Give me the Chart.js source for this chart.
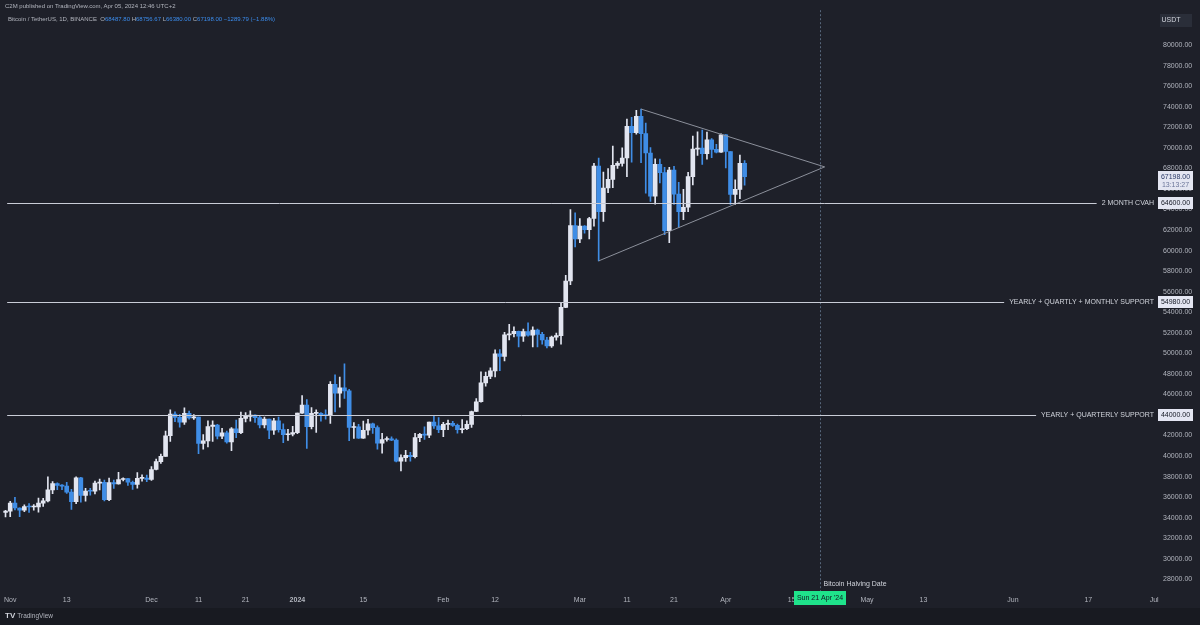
<!DOCTYPE html>
<html>
<head>
<meta charset="utf-8">
<title>Bitcoin / TetherUS, 1D</title>
<script src="https://cdn.jsdelivr.net/npm/chart.js@4.4.1/dist/chart.umd.min.js"></script>
<style>
  html, body { margin: 0; padding: 0; background: #1e2029; }
  #wrap { position: relative; width: 1200px; height: 625px; overflow: hidden; background: #1e2029; }
  #chart { position: absolute; left: 0; top: 0; }
  .hdr { position: absolute; font-family: "Liberation Sans", Arial, sans-serif; font-size: 6px; color: #b2b5be; white-space: pre; }
  .hdr b { font-weight: normal; color: #3b8ced; }
  #footer { position: absolute; left: 0; top: 608px; width: 1200px; height: 17px; background: #181a21; }
  #logo { position: absolute; left: 5px; top: 611px; font-family: "Liberation Sans", Arial, sans-serif; font-size: 6.5px; color: #b2b5be; }
  #logo span { font-weight: bold; font-size: 8px; color: #d1d4dc; margin-right: 2px; }
</style>
</head>
<body>
<div id="wrap">
  <div id="footer"></div>
  <canvas id="chart" width="1200" height="625"></canvas>
  <div class="hdr" style="left:5px;top:3px;">C2M published on TradingView.com, Apr 05, 2024 12:46 UTC+2</div>
  <div class="hdr" style="left:8px;top:16px;">Bitcoin / TetherUS, 1D, BINANCE  O<b>68487.80</b> H<b>68756.67</b> L<b>66380.00</b> C<b>67198.00</b> <b>−1289.79 (−1.88%)</b></div>
  <div id="logo"><span>TV</span>TradingView</div>
</div>
<script>
"use strict";

// days counted from 1 Jan 2024; first candle is 31 Oct 2023
var START_DAY = -62;

var opens = [
  34500, 34640, 35420, 34940, 34730, 35080, 35040, 35040, 35420, 35630, 36700, 37320, 37130, 37070, 36490, 35550,
  37880, 36160, 36600, 36570, 37360, 37450, 35760, 37420, 37290, 37720, 37800, 37450, 37240, 37830, 37850,
  37720, 38690, 39460, 39970, 41980, 44080, 43770, 43290, 44170, 43720, 43790, 41240, 41480, 42880, 43020, 41940,
  42260, 41370, 42660, 42270, 43660, 43860, 43990, 43740, 43020, 43600, 42520, 43440, 42580, 42070, 42140,
  42280, 44180, 44950, 42850, 44150, 44160, 43970, 43930, 46970, 46110, 46630, 46340, 42780, 42840, 41730, 42510,
  43140, 42760, 41260, 41610, 41670, 41550, 39510, 39850, 40080, 39930, 41800, 42120, 42030, 43300, 42940,
  42580, 43080, 43190, 42990, 42580, 42660, 43090, 44340, 45290, 47130, 47750, 48290, 49960, 49700, 51800, 51910,
  52130, 51660, 52120, 51780, 52260, 51850, 51300, 50730, 51570, 51730, 54480, 57040, 62430,
  61130, 62390, 62030, 63130, 68240, 63800, 66100, 66930, 68300, 68500, 69020, 72100, 71480, 73080, 71390, 69500,
  65300, 68390, 67600, 61940, 67840, 65500, 63800, 64220, 67210, 69880, 69990, 69450, 70780, 69850, 69580,
  71280, 69650, 65460, 65960, 68490
];
var highs = [
  34720, 35580, 35980, 34950, 35260, 35380, 35280, 35900, 35890, 37970, 37520, 37400, 37230, 37430, 36760, 37980,
  37930, 36850, 36850, 37560, 37750, 37650, 37860, 37650, 38420, 37890, 37820, 37560, 38380, 38170, 38150,
  38970, 39700, 40200, 42420, 44490, 44300, 44050, 44700, 44370, 44040, 43800, 42100, 43430, 43420, 43090, 42700,
  42430, 42760, 43500, 44280, 44240, 44400, 44020, 43950, 43800, 43600, 43680, 43790, 43130, 42600, 42900,
  44190, 45880, 45500, 44730, 44500, 44230, 44500, 47250, 47900, 47700, 48970, 46500, 43260, 43080, 43400, 43580,
  43200, 42930, 42200, 41880, 41870, 41680, 40130, 40550, 40350, 42220, 42200, 42840, 43300, 43880, 43750,
  43290, 43490, 43380, 43120, 43540, 43420, 44370, 45600, 48200, 48170, 48590, 50330, 50370, 52040, 52820, 52580,
  52160, 52360, 52980, 52570, 52370, 52040, 51550, 51690, 51960, 54940, 57590, 64000, 63680,
  63110, 62430, 63230, 68500, 69000, 67640, 67990, 70170, 68670, 70000, 72800, 72970, 73650, 73780, 72420, 70040,
  68930, 68920, 68120, 68100, 68200, 66650, 65970, 67620, 71150, 71560, 71730, 71550, 70900, 70350, 71370,
  71290, 69650, 66900, 69290, 68757
];
var lows = [
  34080, 34100, 34760, 34100, 34580, 34520, 34730, 34530, 35100, 35540, 36330, 36730, 36730, 36350, 34800, 35360,
  35500, 35610, 36200, 36320, 36690, 35630, 35660, 36860, 37250, 37590, 37150, 36750, 36870, 37550, 37500,
  37620, 38650, 39280, 39970, 41420, 43340, 42820, 43080, 43580, 43570, 40220, 40680, 40880, 41420, 41660, 41680,
  41250, 40530, 41800, 42190, 43330, 43400, 43280, 42750, 42730, 41680, 42100, 42320, 41300, 41520, 41970,
  42190, 44150, 40750, 42630, 42300, 43400, 43580, 43180, 44300, 44750, 45610, 41500, 41720, 41720, 41720, 42050,
  42200, 40680, 40280, 41440, 41500, 39440, 38550, 39480, 39500, 39820, 41390, 41620, 41800, 42680, 42270,
  41880, 42570, 42880, 42220, 42260, 42580, 42790, 44330, 45240, 46800, 47540, 47710, 48300, 49250, 51300, 51600,
  50630, 51150, 51680, 50630, 50620, 50900, 50520, 50580, 51270, 50900, 54450, 56690, 60360,
  60780, 61700, 61150, 62390, 59000, 62850, 65630, 66130, 68000, 68230, 67190, 68620, 71330, 68560, 65600, 64780,
  64530, 66600, 61560, 60770, 64500, 62260, 63020, 63800, 66390, 69280, 68380, 68900, 69050, 69500, 69560,
  68060, 64500, 64490, 65060, 66380
];
var closes = [
  34640, 35420, 34940, 34730, 35080, 35040, 35040, 35420, 35630, 36700, 37320, 37130, 37070, 36490, 35550, 37880,
  36160, 36600, 36570, 37360, 37450, 35760, 37420, 37290, 37720, 37800, 37450, 37240, 37830, 37850, 37720,
  38690, 39460, 39970, 41980, 44080, 43770, 43290, 44170, 43720, 43790, 41240, 41480, 42880, 43020, 41940, 42260,
  41370, 42660, 42270, 43660, 43860, 43990, 43740, 43020, 43600, 42520, 43440, 42580, 42070, 42140, 42280,
  44180, 44950, 42850, 44150, 44160, 43970, 43930, 46970, 46110, 46630, 46340, 42780, 42840, 41730, 42510, 43140,
  42760, 41260, 41610, 41670, 41550, 39510, 39850, 40080, 39930, 41800, 42120, 42030, 43300, 42940, 42580,
  43080, 43190, 42990, 42580, 42660, 43090, 44340, 45290, 47130, 47750, 48290, 49960, 49700, 51800, 51910, 52130,
  51660, 52120, 51780, 52260, 51850, 51300, 50730, 51570, 51730, 54480, 57040, 62430, 61130,
  62390, 62030, 63130, 68240, 63800, 66100, 66930, 68300, 68500, 69020, 72100, 71480, 73080, 71390, 69500, 65300,
  68390, 67600, 61940, 67840, 65500, 63800, 64220, 67210, 69880, 69990, 69450, 70780, 69850, 69580, 71280,
  69650, 65460, 65960, 68490, 67198
];

var xTickDays   = [-61, -49, -31, -21, -11, 0, 14, 31, 42, 60, 70, 80, 91, 105, 121, 133, 152, 168, 182];
var xTickLabels = ["Nov", "13", "Dec", "11", "21", "2024", "15", "Feb", "12", "Mar", "11", "21", "Apr", "15", "May", "13", "Jun", "17", "Jul"];
var yTicks = [];
for (var p = 28000; p <= 80000; p += 2000) yTicks.push(p);

var levelPrices = [64600, 54980, 44000];
var levelLabels = ["2 MONTH CVAH", "YEARLY + QUARTLY + MONTHLY SUPPORT", "YEARLY + QUARTERLY SUPPORT"];

// triangle: upper edge from the 14 Mar high, lower edge from the 5 Mar low, both to the apex
var triUpperDays   = [73, 112];
var triUpperPrices = [73780, 68150];
var triLowerDays   = [64, 112];
var triLowerPrices = [59000, 68150];

var halvingDay = 111;
var lastPrice = 67198;

var UP = "#e2e5f0";
var DOWN = "#3f8de6";
var TXT = "#b2b5be";
var FONT = "'Liberation Sans', Arial, sans-serif";

var days = opens.map(function(o, i) { return START_DAY + i; });
var colors = opens.map(function(o, i) { return closes[i] >= o ? UP : DOWN; });
var wicks = days.map(function(d, i) { return { x: d, y: [lows[i], highs[i]] }; });
var bodies = days.map(function(d, i) { return { x: d, y: [opens[i], closes[i]] }; });

function pts(xs, ys) {
  return xs.map(function(x, i) { return { x: x, y: ys[i] }; });
}

// horizontal levels, halving marker, price-axis boxes
var overlay = {
  id: "overlay",
  afterDatasetsDraw: function(chart) {
    var ctx = chart.ctx, a = chart.chartArea;
    var xs = chart.scales.x, ys = chart.scales.y;
    ctx.save();
    // halving date
    var hx = Math.round(xs.getPixelForValue(halvingDay)) + 0.5;
    ctx.strokeStyle = "#56657a";
    ctx.lineWidth = 1;
    ctx.setLineDash([2, 2]);
    ctx.beginPath();
    ctx.moveTo(hx, a.top);
    ctx.lineTo(hx, a.bottom);
    ctx.stroke();
    ctx.setLineDash([]);
    ctx.font = "7px " + FONT;
    ctx.fillStyle = "#d1d4dc";
    ctx.textAlign = "left";
    ctx.textBaseline = "middle";
    ctx.fillText("Bitcoin Halving Date", hx + 3, 584);

    // levels
    ctx.textAlign = "right";
    levelPrices.forEach(function(lp, i) {
      var y = Math.round(ys.getPixelForValue(lp)) + 0.5;
      var tw = ctx.measureText(levelLabels[i]).width;
      var tx = a.right - 3;
      ctx.strokeStyle = "#c9ccd6";
      ctx.beginPath();
      ctx.moveTo(a.left + 4, y);
      ctx.lineTo(tx - tw - 5, y);
      ctx.stroke();
      ctx.fillStyle = "#d1d4dc";
      ctx.fillText(levelLabels[i], tx, y);
    });
    ctx.restore();
  },
  afterDraw: function(chart) {
    var ctx = chart.ctx, a = chart.chartArea;
    var xs = chart.scales.x, ys = chart.scales.y;
    ctx.save();
    ctx.font = "7px " + FONT;
    ctx.textAlign = "center";
    ctx.textBaseline = "middle";
    var bx = a.right + 1, bw = 35;
    levelPrices.forEach(function(lp) {
      var y = Math.round(ys.getPixelForValue(lp));
      ctx.fillStyle = "#e4e6f2";
      ctx.fillRect(bx, y - 6, bw, 12);
      ctx.fillStyle = "#131722";
      ctx.fillText(lp.toFixed(2), bx + bw / 2, y + 0.5);
    });
    // last price + countdown
    var ly = Math.round(ys.getPixelForValue(lastPrice));
    ctx.fillStyle = "#e4e6f2";
    ctx.fillRect(bx, ly - 6, bw, 19);
    ctx.fillStyle = "#2b3a67";
    ctx.fillText(lastPrice.toFixed(2), bx + bw / 2, ly + 0.5);
    ctx.fillStyle = "#6b7599";
    ctx.fillText("13:13:27", bx + bw / 2, ly + 8.5);
    // currency box
    ctx.fillStyle = "#2a2e39";
    ctx.fillRect(a.right + 3, 14, 32, 13);
    ctx.fillStyle = "#d1d4dc";
    ctx.fillText("USDT", a.right + 14, 20.5);
    // halving date label on the time axis
    var hx = Math.round(xs.getPixelForValue(halvingDay));
    ctx.fillStyle = "#1fe38b";
    ctx.fillRect(hx - 26, a.bottom - 1, 52, 14);
    ctx.fillStyle = "#131722";
    ctx.fillText("Sun 21 Apr '24", hx, a.bottom + 6);
    ctx.restore();
  }
};

new Chart(document.getElementById("chart"), {
  type: "bar",
  data: {
    datasets: [
      { type: "line", data: pts(triUpperDays, triUpperPrices), borderColor: "#8c909b", borderWidth: 1, pointRadius: 0, order: 0 },
      { type: "line", data: pts(triLowerDays, triLowerPrices), borderColor: "#8c909b", borderWidth: 1, pointRadius: 0, order: 0 },
      { data: bodies, backgroundColor: colors, barThickness: 4, minBarLength: 1, grouped: false, order: 1 },
      { data: wicks, backgroundColor: colors, barThickness: 1, grouped: false, order: 2 }
    ]
  },
  options: {
    responsive: false,
    animation: false,
    devicePixelRatio: 1,
    layout: { padding: { top: 10, bottom: 17, left: 0, right: 0 } },
    plugins: { legend: { display: false }, tooltip: { enabled: false } },
    scales: {
      x: {
        type: "linear",
        min: -62.5,
        max: 182.6,
        offset: false,
        grid: { display: false, drawTicks: false, offset: false },
        border: { display: false },
        afterBuildTicks: function(scale) {
          scale.ticks = xTickDays.map(function(v) { return { value: v }; });
        },
        afterFit: function(scale) { scale.height = 16; },
        ticks: {
          autoSkip: false,
          maxRotation: 0,
          padding: 4,
          color: TXT,
          font: function(c) {
            return { family: FONT, size: 7, weight: (c.tick && c.tick.value === 0) ? "bold" : "normal" };
          },
          callback: function(v, i) { return xTickLabels[i]; }
        }
      },
      y: {
        position: "right",
        min: 26764,
        max: 83406,
        grid: { display: false, drawTicks: false },
        border: { display: false },
        afterBuildTicks: function(scale) {
          scale.ticks = yTicks.map(function(v) { return { value: v }; });
        },
        afterFit: function(scale) { scale.width = 43; },
        ticks: {
          padding: 6,
          color: TXT,
          font: { family: FONT, size: 7 },
          callback: function(v) { return Number(v).toFixed(2); }
        }
      }
    }
  },
  plugins: [overlay]
});
</script>
</body>
</html>
